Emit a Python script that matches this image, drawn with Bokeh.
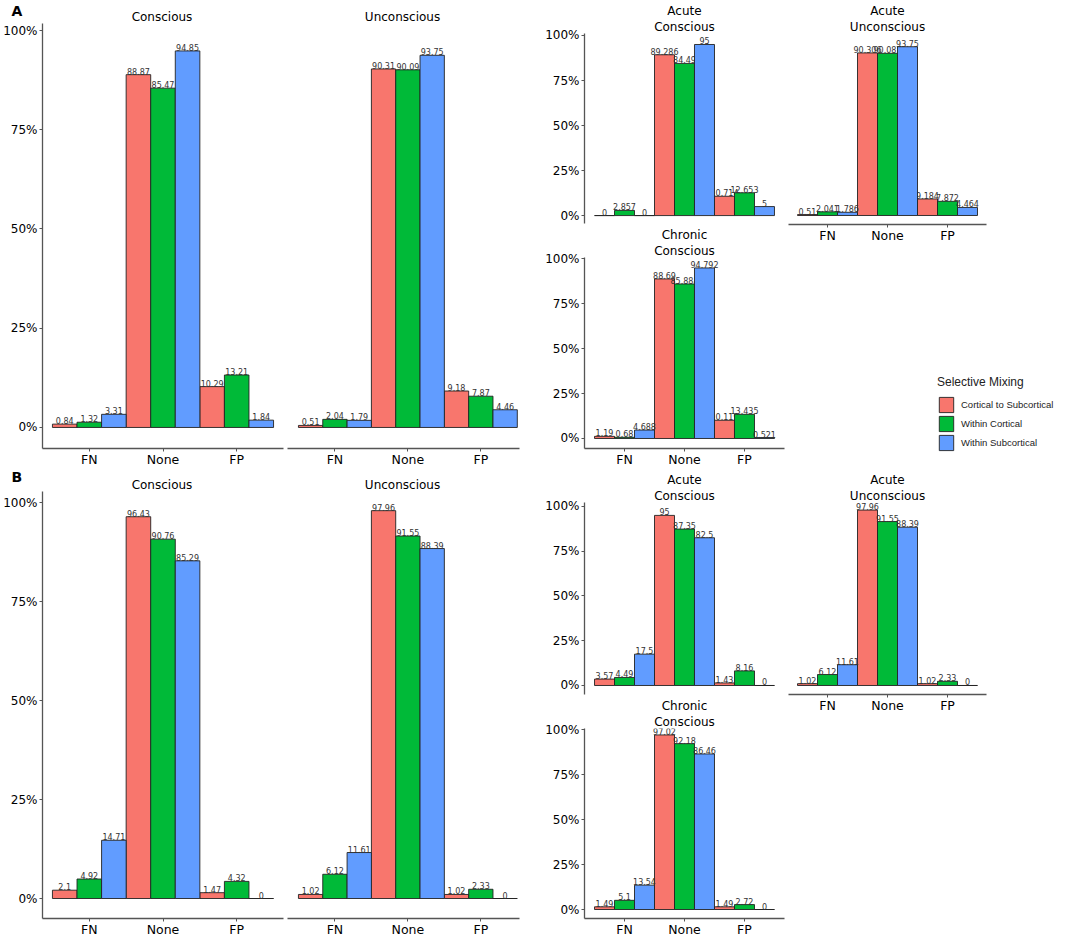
from bokeh.plotting import figure
from bokeh.models import (Range1d, FixedTicker, PrintfTickFormatter, Label, Legend,
                          LegendItem, ColumnDataSource, Title)
from bokeh.layouts import row, column
from bokeh.transform import dodge
from bokeh.embed import file_html
from bokeh.resources import INLINE
from bokeh.core.properties import value

categories = ["FN", "None", "FP"]
groups = ["Cortical to Subcortical", "Within Cortical", "Within Subcortical"]
colors = ["#F8766D", "#00BA38", "#619CFF"]
y_ticks = [0, 25, 50, 75, 100]

# values per group (Cortical to Subcortical, Within Cortical, Within Subcortical), ordered FN, None, FP
a_conscious = [[0.84, 88.87, 10.29], [1.32, 85.47, 13.21], [3.31, 94.85, 1.84]]
a_unconscious = [[0.51, 90.31, 9.18], [2.04, 90.09, 7.87], [1.79, 93.75, 4.46]]
a_acute_conscious = [[0, 89.286, 10.714], [2.857, 84.49, 12.653], [0, 95, 5]]
a_acute_unconscious = [[0.51, 90.306, 9.184], [2.041, 90.087, 7.872], [1.786, 93.75, 4.464]]
a_chronic_conscious = [[1.19, 88.69, 10.119], [0.68, 85.884, 13.435], [4.688, 94.792, 0.521]]
b_conscious = [[2.1, 96.43, 1.47], [4.92, 90.76, 4.32], [14.71, 85.29, 0]]
b_unconscious = [[1.02, 97.96, 1.02], [6.12, 91.55, 2.33], [11.61, 88.39, 0]]
b_acute_conscious = [[3.57, 95, 1.43], [4.49, 87.35, 8.16], [17.5, 82.5, 0]]
b_acute_unconscious = [[1.02, 97.96, 1.02], [6.12, 91.55, 2.33], [11.61, 88.39, 0]]
b_chronic_conscious = [[1.49, 97.02, 1.49], [5.1, 92.18, 2.72], [13.54, 86.46, 0]]

FONT = "DejaVu Sans"
BAR_W = 1.0 / 3
AXIS_COLOR = "#555555"


def add_bars(p, vals, labels=True):
    xpos = list(range(1, len(categories) + 1))
    rends = []
    for g, (name, col) in enumerate(zip(groups, colors)):
        off = (g - 1) * BAR_W
        src = ColumnDataSource(dict(x=xpos, top=vals[g],
                                    label=["%g" % v for v in vals[g]]))
        rr = p.vbar(x=dodge("x", off, range=p.x_range), top="top", bottom=0,
                    width=BAR_W, source=src, fill_color=col,
                    line_color="#222222", line_width=0.9)
        rends.append(rr)
        if labels:
            p.text(x=dodge("x", off, range=p.x_range), y="top", text="label",
                   source=src, text_font=value(FONT), text_font_size="8px",
                   text_align="center", text_baseline="bottom",
                   text_color="#333333", y_offset=0)
    return xpos, rends


def make_panel(title_lines, vals, fw, fh, borders, xr, yr, show_y=True, show_x=True):
    l, r, t, b = borders
    p = figure(frame_width=fw, frame_height=fh, x_range=Range1d(*xr), y_range=Range1d(*yr),
               output_backend="svg", toolbar_location=None, title=None,
               min_border_left=l, min_border_right=r,
               min_border_top=t, min_border_bottom=b)
    # titles stack outward from the frame: add the last line first
    for line in reversed(title_lines):
        p.add_layout(Title(text=line, align="center", text_font=FONT,
                           text_font_size="12px", text_font_style="normal",
                           text_color="black", standoff=0, offset=0), "above")
    p.grid.visible = False
    p.outline_line_color = None
    p.background_fill_color = "white"
    p.border_fill_color = "white"

    xpos, rends = add_bars(p, vals)

    p.xaxis.ticker = FixedTicker(ticks=xpos)
    p.xaxis.major_label_overrides = {i: c for i, c in zip(xpos, categories)}
    p.yaxis.ticker = FixedTicker(ticks=y_ticks)
    p.yaxis.formatter = PrintfTickFormatter(format="%d%%")
    for ax in (p.xaxis, p.yaxis):
        ax.axis_line_color = AXIS_COLOR
        ax.axis_line_width = 1.3
        ax.major_tick_line_color = AXIS_COLOR
        ax.major_tick_in = 0
        ax.major_tick_out = 3
        ax.minor_tick_line_color = None
        ax.major_label_text_font = FONT
        ax.major_label_text_color = "black"
    p.xaxis.major_label_standoff = 0
    p.yaxis.major_label_standoff = 2
    p.xaxis.major_label_text_font_size = "12.5px"
    p.yaxis.major_label_text_font_size = "12px"
    p.xaxis.visible = show_x
    p.yaxis.visible = show_y
    return p, rends


def blank(width, height, x_range=(0, 1)):
    p = figure(width=width, height=height, x_range=Range1d(*x_range), y_range=Range1d(0, 1),
               output_backend="svg", toolbar_location=None, title=None,
               min_border_left=0, min_border_right=0, min_border_top=0, min_border_bottom=0)
    p.axis.visible = False
    p.grid.visible = False
    p.outline_line_color = None
    p.background_fill_color = "white"
    p.border_fill_color = "white"
    return p


def header(letter, titles, height, letter_y, title_y):
    h = blank(540, height)
    h.add_layout(Label(x=11, y=letter_y, x_units="screen", y_units="screen",
                       text=letter, text_font=FONT, text_font_style="bold",
                       text_font_size="14px", text_baseline="middle",
                       text_align="left", text_color="black"))
    for text, cx in titles:
        h.add_layout(Label(x=cx, y=title_y, x_units="screen", y_units="screen",
                           text=text, text_font=FONT, text_font_size="12px",
                           text_baseline="middle", text_align="center",
                           text_color="black"))
    return h


# ---- Row A (height 468) ----
HA = header("A", [("Conscious", 161.5), ("Unconscious", 402)], 23, 13, 7)
A1, _ = make_panel([], a_conscious, 241, 425, (41, 2, 0, 20),
                   (0.365, 3.635), (-5.3, 101.76))
A2, _ = make_panel([], a_unconscious, 232, 425, (2, 22, 0, 20),
                   (0.35, 3.53), (-5.3, 101.76), show_y=False)
A3, _ = make_panel(["Acute", "Conscious"], a_acute_conscious, 200, 190, (43, 2, 33, 2),
                   (0.333, 3.667), (-4.4, 101.1), show_x=False)
A5, _ = make_panel(["Chronic", "Conscious"], a_chronic_conscious, 200, 191, (43, 2, 32, 20),
                   (0.333, 3.667), (-5.56, 100.6))
A4, _ = make_panel(["Acute", "Unconscious"], a_acute_unconscious, 198, 191, (2, 89, 33, 21),
                   (0.35, 3.65), (-5, 101.1), show_y=False)

# legend panel below the Acute Unconscious plot (its bars lie outside the visible range)
LG = blank(289, 223, x_range=(-10, -9))
_, lg_rends = add_bars(LG, a_acute_unconscious, labels=False)
leg = Legend(items=[LegendItem(label=n, renderers=[rr]) for n, rr in zip(groups, lg_rends)],
             location=(151, 16), title="Selective Mixing",
             title_text_font="Liberation Sans", title_text_font_size="12px",
             title_text_font_style="normal", title_text_color="#222222", title_standoff=6,
             label_text_font="Liberation Sans", label_text_font_size="9.5px",
             label_text_color="#222222",
             glyph_width=18, glyph_height=19, label_height=19, spacing=0,
             label_standoff=6, padding=0, margin=0,
             border_line_color=None, background_fill_alpha=0)
LG.add_layout(leg)

# ---- Row B (height 472) ----
HB = header("B", [("Conscious", 161.5), ("Unconscious", 402)], 22, 15, 7)
B1, _ = make_panel([], b_conscious, 241, 427, (41, 2, 0, 23),
                   (0.365, 3.635), (-5.05, 102.8))
B2, _ = make_panel([], b_unconscious, 232, 427, (2, 22, 0, 23),
                   (0.35, 3.53), (-5.05, 102.8), show_y=False)
B3, _ = make_panel(["Acute", "Conscious"], b_acute_conscious, 200, 192, (43, 2, 33, 2),
                   (0.333, 3.667), (-5.03, 102.2), show_x=False)
B5, _ = make_panel(["Chronic", "Conscious"], b_chronic_conscious, 200, 190, (43, 2, 31, 24),
                   (0.333, 3.667), (-5, 100.6))
B4, _ = make_panel(["Acute", "Unconscious"], b_acute_unconscious, 198, 192, (2, 89, 33, 247),
                   (0.35, 3.65), (-5.03, 102.2), show_y=False)

# wrap each plot in its own column so that the layouts do not align the plot frames
leftA = column(column(HA), row(column(A1), column(A2), spacing=0), spacing=0)
leftB = column(column(HB), row(column(B1), column(B2), spacing=0), spacing=0)
rowA = row(leftA, column(column(A3), column(A5), spacing=0),
           column(column(A4), column(LG), spacing=0), spacing=0)
rowB = row(leftB, column(column(B3), column(B5), spacing=0), column(B4), spacing=0)
layout = column(rowA, rowB, spacing=0)

open("out.html", "w").write(file_html(layout, INLINE, title="Selective Mixing"))
